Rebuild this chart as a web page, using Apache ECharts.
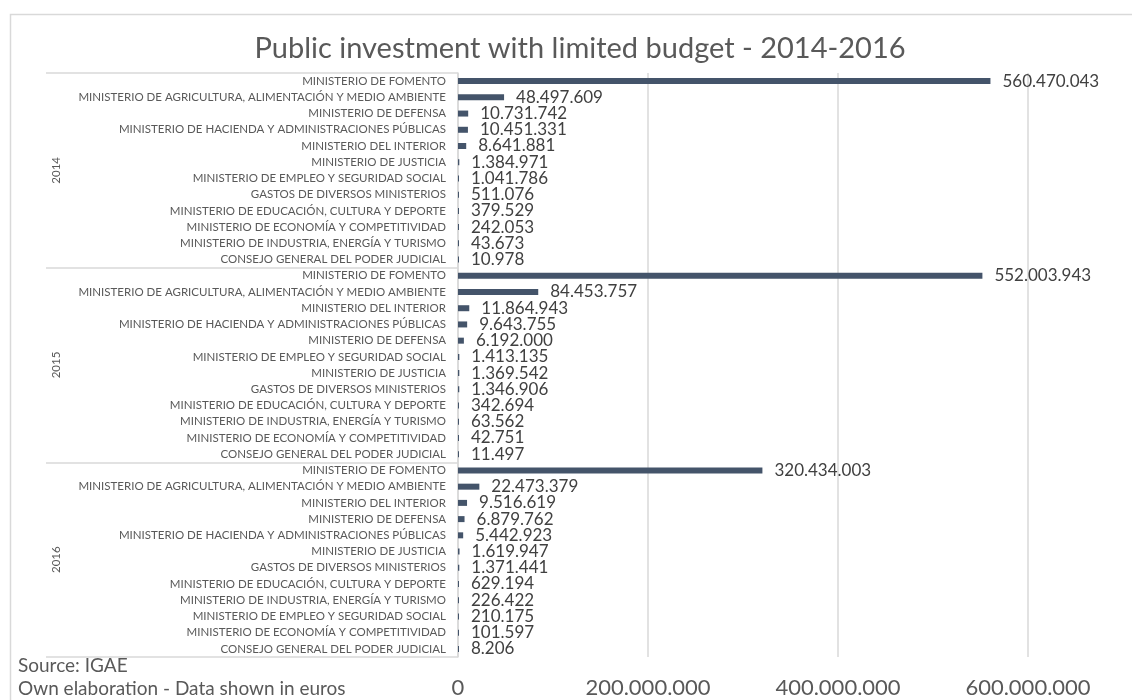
<!DOCTYPE html>
<html>
<head>
<meta charset="utf-8">
<script src="https://cdn.jsdelivr.net/npm/echarts@6/dist/echarts.min.js"></script>
<style>
html,body{margin:0;padding:0;background:#fff;}
#chart{width:1132px;height:700px;}
</style>
</head>
<body>
<div id="chart"></div>
<script>
const years = ['2014', '2015', '2016'];
const ministries2014 = [
  'MINISTERIO DE FOMENTO',
  'MINISTERIO DE AGRICULTURA, ALIMENTACIÓN Y MEDIO AMBIENTE',
  'MINISTERIO DE DEFENSA',
  'MINISTERIO DE HACIENDA Y ADMINISTRACIONES PÚBLICAS',
  'MINISTERIO DEL INTERIOR',
  'MINISTERIO DE JUSTICIA',
  'MINISTERIO DE EMPLEO Y SEGURIDAD SOCIAL',
  'GASTOS DE DIVERSOS MINISTERIOS',
  'MINISTERIO DE EDUCACIÓN, CULTURA Y DEPORTE',
  'MINISTERIO DE ECONOMÍA Y COMPETITIVIDAD',
  'MINISTERIO DE INDUSTRIA, ENERGÍA Y TURISMO',
  'CONSEJO GENERAL DEL PODER JUDICIAL'
];
const values2014 = [560470043, 48497609, 10731742, 10451331, 8641881, 1384971, 1041786, 511076, 379529, 242053, 43673, 10978];
const ministries2015 = [
  'MINISTERIO DE FOMENTO',
  'MINISTERIO DE AGRICULTURA, ALIMENTACIÓN Y MEDIO AMBIENTE',
  'MINISTERIO DEL INTERIOR',
  'MINISTERIO DE HACIENDA Y ADMINISTRACIONES PÚBLICAS',
  'MINISTERIO DE DEFENSA',
  'MINISTERIO DE EMPLEO Y SEGURIDAD SOCIAL',
  'MINISTERIO DE JUSTICIA',
  'GASTOS DE DIVERSOS MINISTERIOS',
  'MINISTERIO DE EDUCACIÓN, CULTURA Y DEPORTE',
  'MINISTERIO DE INDUSTRIA, ENERGÍA Y TURISMO',
  'MINISTERIO DE ECONOMÍA Y COMPETITIVIDAD',
  'CONSEJO GENERAL DEL PODER JUDICIAL'
];
const values2015 = [552003943, 84453757, 11864943, 9643755, 6192000, 1413135, 1369542, 1346906, 342694, 63562, 42751, 11497];
const ministries2016 = [
  'MINISTERIO DE FOMENTO',
  'MINISTERIO DE AGRICULTURA, ALIMENTACIÓN Y MEDIO AMBIENTE',
  'MINISTERIO DEL INTERIOR',
  'MINISTERIO DE DEFENSA',
  'MINISTERIO DE HACIENDA Y ADMINISTRACIONES PÚBLICAS',
  'MINISTERIO DE JUSTICIA',
  'GASTOS DE DIVERSOS MINISTERIOS',
  'MINISTERIO DE EDUCACIÓN, CULTURA Y DEPORTE',
  'MINISTERIO DE INDUSTRIA, ENERGÍA Y TURISMO',
  'MINISTERIO DE EMPLEO Y SEGURIDAD SOCIAL',
  'MINISTERIO DE ECONOMÍA Y COMPETITIVIDAD',
  'CONSEJO GENERAL DEL PODER JUDICIAL'
];
const values2016 = [320434003, 22473379, 9516619, 6879762, 5442923, 1619947, 1371441, 629194, 226422, 210175, 101597, 8206];
const xTicks = [0, 200000000, 400000000, 600000000];

const groups = [[years[0], ministries2014, values2014], [years[1], ministries2015, values2015], [years[2], ministries2016, values2016]];
const catKeys = [];
const allValues = [];
groups.forEach(function (g) {
  g[1].forEach(function (m, i) { catKeys.push(g[0] + '|' + m); allValues.push(g[2][i]); });
});

function fmt(v) {
  return String(Math.round(v)).replace(/\B(?=(\d{3})+(?!\d))/g, '.');
}
const FONT = 'Lato';
const chart = echarts.init(document.getElementById('chart'), null, { renderer: 'canvas' });
chart.setOption({
  animation: false,
  backgroundColor: '#fff',
  textStyle: { fontFamily: FONT },
  title: {
    text: 'Public investment with limited budget - 2014-2016',
    left: 575, top: 29, textAlign: 'center',
    textStyle: { fontFamily: FONT, fontSize: 29, fontWeight: 'normal', color: '#595959' }
  },
  grid: { left: 458, right: 104, top: 73, bottom: 43, containLabel: false },
  xAxis: {
    type: 'value', min: xTicks[0], max: xTicks[xTicks.length - 1], interval: xTicks[1] - xTicks[0],
    axisLine: { show: false }, axisTick: { show: false },
    splitLine: { show: true, lineStyle: { color: '#d9d9d9', width: 1.5 } },
    axisLabel: { fontFamily: FONT, fontSize: 22, color: '#595959', margin: 20, formatter: fmt, showMaxLabel: true }
  },
  yAxis: [
    {
      type: 'category', inverse: true, data: catKeys,
      axisLine: { show: true, lineStyle: { color: '#d9d9d9', width: 1.5 } },
      axisTick: { show: false },
      axisLabel: { interval: 0, fontFamily: FONT, fontSize: 11.5, color: '#595959', margin: 12,
        formatter: function (v) { return v.split('|')[1]; } }
    },
    {
      type: 'category', inverse: true, data: years, position: 'left',
      axisLine: { show: false },
      axisTick: { show: true, length: 412, interval: 0, lineStyle: { color: '#d9d9d9', width: 1.5 } },
      axisLabel: { interval: 0, rotate: 90, fontFamily: FONT, fontSize: 11.5, color: '#595959', margin: 396 }
    }
  ],
  graphic: [
    { type: 'rect', left: 8, top: 12, shape: { width: 1140, height: 700 }, style: { fill: 'none', stroke: '#d9d9d9', lineWidth: 1.5 }, silent: true },
    { type: 'text', x: 18, y: 666, style: { text: 'Source: IGAE', fontFamily: FONT, fontSize: 19, fill: '#595959', verticalAlign: 'middle' } },
    { type: 'text', x: 18, y: 689, style: { text: 'Own elaboration - Data shown in euros', fontFamily: FONT, fontSize: 19, fill: '#595959', verticalAlign: 'middle' } }
  ],
  series: [{
    type: 'bar', yAxisIndex: 0, data: allValues, barWidth: 6, barMinHeight: 1,
    itemStyle: { color: '#44546A' },
    label: { show: true, position: 'right', distance: 12, fontFamily: FONT, fontSize: 17, color: '#404040', formatter: function (p) { return fmt(p.value); } }
  }]
});
</script>
</body>
</html>
